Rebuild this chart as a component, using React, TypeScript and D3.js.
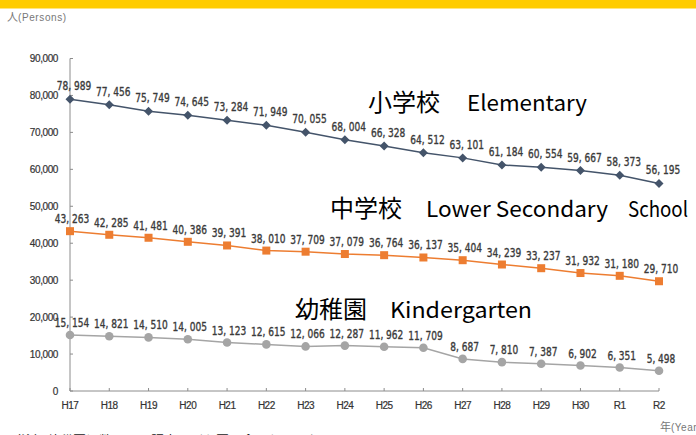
import React from "react";
import * as d3 from "d3";

const years = ["H17","H18","H19","H20","H21","H22","H23","H24","H25","H26","H27","H28","H29","H30","R1","R2"];
const elementary = [78989,77456,75749,74645,73284,71949,70055,68004,66328,64512,63101,61184,60554,59667,58373,56195];
const lowerSecondary = [43263,42285,41481,40386,39391,38010,37709,37079,36764,36137,35404,34239,33237,31932,31180,29710];
const kindergarten = [15154,14821,14510,14005,13123,12615,12066,12287,11962,11709,8687,7810,7387,6902,6351,5498];
const yTicks = [0,10000,20000,30000,40000,50000,60000,70000,80000,90000];

const W = 696, H = 435;

export default function App() {
  const x = d3.scalePoint<string>().domain(years).range([70, 659]);
  const y = d3.scaleLinear().domain([0, 90000]).range([391, 58.5]);
  const fmtTick = d3.format(",");
  const fmtLabel = (v: number) => d3.format(",")(v).replace(",", ", ");
  const line = d3.line<number>().x((_, i) => x(years[i])!).y(v => y(v));
  const labelFont = "'DejaVu Sans Condensed', 'DejaVu Sans', sans-serif";
  const axisFont = "'Liberation Sans', Arial, sans-serif";
  const titleFont = "'Noto Sans CJK JP', 'Noto Sans', sans-serif";

  const labels = (data: number[], dx: number, dy: number) =>
    data.map((v, i) => {
      const s = fmtLabel(v);
      const digits = s.replace(/[^0-9]/g, "").length;
      const len = digits * 5.9 + 5;
      return (
        <text key={i} x={x(years[i])! + dx - len / 2} y={y(v) + dy}
          textLength={len} lengthAdjust="spacingAndGlyphs"
          fontFamily={labelFont} fontSize={12} fill="#3a3a3a" stroke="#3a3a3a" strokeWidth={0.35}>
          {s}
        </text>
      );
    });

  return (
    <svg width={W} height={H} style={{ position: "absolute", left: 0, top: 0, background: "#fff" }}>
      <rect x={0} y={0} width={W} height={8.5} fill="#FFCC00" />
      <text x={7} y={21} fontFamily={titleFont} fill="#777">
        <tspan fontSize={11}>人</tspan>
        <tspan fontSize={10} fontFamily={axisFont} letterSpacing={0.6}>(Persons)</tspan>
      </text>

      {/* y axis */}
      <line x1={70} x2={70} y1={y(90000)} y2={y(0)} stroke="#8c8c8c" strokeWidth={1} />
      {yTicks.map(t => (
        <g key={t}>
          <line x1={70} x2={73} y1={y(t)} y2={y(t)} stroke="#8c8c8c" />
          <text x={58} y={y(t)} dy="0.35em" textAnchor="end" fontFamily={axisFont} fontSize={10}
            fill="#333" stroke="#333" strokeWidth={0.2} letterSpacing={-0.4}>{fmtTick(t)}</text>
        </g>
      ))}

      {/* x axis */}
      <line x1={70} x2={659} y1={y(0)} y2={y(0)} stroke="#8c8c8c" strokeWidth={1} />
      {years.map(yr => (
        <g key={yr}>
          <line x1={x(yr)!} x2={x(yr)!} y1={y(0)} y2={y(0) - 3} stroke="#8c8c8c" />
          <text x={x(yr)!} y={409} textAnchor="middle" fontFamily={axisFont} fontSize={10}
            fill="#333" stroke="#333" strokeWidth={0.2} letterSpacing={-0.5}>{yr}</text>
        </g>
      ))}
      <text x={660} y={431} fontFamily={titleFont} fontSize={11} fill="#777">
        年<tspan fontFamily={axisFont} fontSize={10} letterSpacing={0.5}>(Year)</tspan>
      </text>

      {/* series */}
      <path d={line(kindergarten)!} fill="none" stroke="#A5A5A5" strokeWidth={1.5} />
      {kindergarten.map((v, i) => (
        <circle key={i} cx={x(years[i])!} cy={y(v)} r={4.3} fill="#A5A5A5" />
      ))}
      <path d={line(lowerSecondary)!} fill="none" stroke="#ED7D31" strokeWidth={1.5} />
      {lowerSecondary.map((v, i) => (
        <rect key={i} x={x(years[i])! - 4} y={y(v) - 4} width={8} height={8} fill="#ED7D31" />
      ))}
      <path d={line(elementary)!} fill="none" stroke="#44546A" strokeWidth={1.5} />
      {elementary.map((v, i) => {
        const cx = x(years[i])!, cy = y(v);
        return <path key={i} d={`M${cx},${cy - 4.5}L${cx + 4.5},${cy}L${cx},${cy + 4.5}L${cx - 4.5},${cy}Z`} fill="#44546A" />;
      })}

      {labels(elementary, 4, -9)}
      {labels(lowerSecondary, 2, -8)}
      {labels(kindergarten, 2, -8)}

      {/* titles */}
      <g fontFamily={titleFont} fill="#000">
        <text x={368} y={111} fontSize={24}>小学校</text>
        <text x={467} y={111} fontSize={22} textLength={120} lengthAdjust="spacingAndGlyphs">Elementary</text>
        <text x={330} y={217} fontSize={24}>中学校</text>
        <text x={426} y={217} fontSize={22} textLength={182} lengthAdjust="spacingAndGlyphs">Lower Secondary</text>
        <text x={628} y={217} fontSize={21} textLength={60} lengthAdjust="spacingAndGlyphs">School</text>
        <text x={295} y={318} fontSize={24}>幼稚園</text>
        <text x={390} y={318} fontSize={22} textLength={142} lengthAdjust="spacingAndGlyphs">Kindergarten</text>
      </g>

      <text x={8} y={445} fontFamily={titleFont} fontSize={13} fill="#222">
        （注）幼稚園児数には、認定こども園は含まれていない。
      </text>
    </svg>
  );
}
